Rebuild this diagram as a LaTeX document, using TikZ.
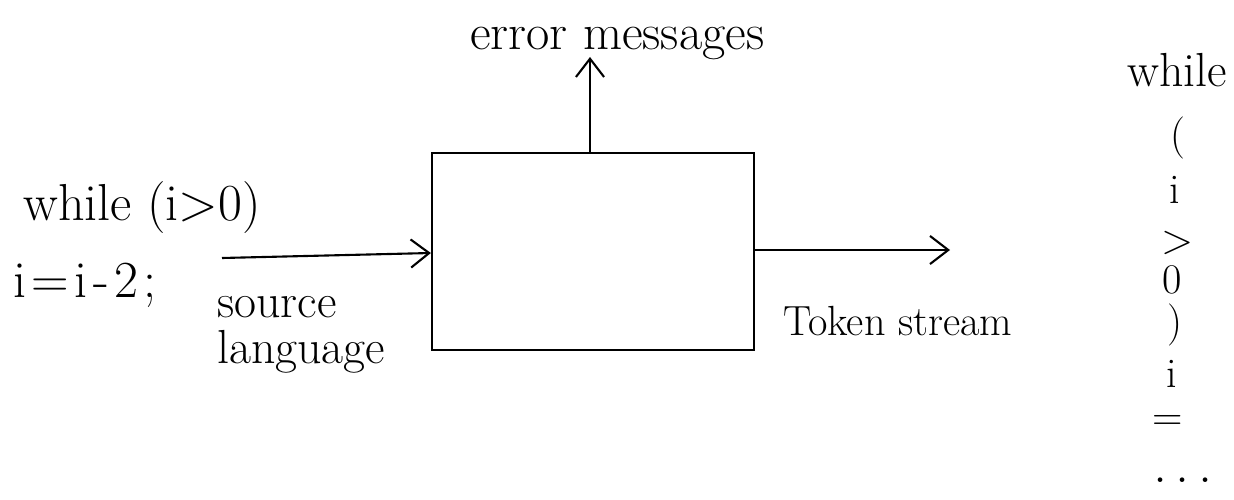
\documentclass[tikz,border=0pt]{standalone}
\usetikzlibrary{arrows.meta}
\begin{document}
\begin{tikzpicture}[x=0.025cm,y=-0.025cm,
  conn/.style={line width=1.5pt,-{Straight Barb[length=13pt,width=20pt,line width=1.5pt]}},
  lbl/.style={inner sep=0pt,anchor=base west},
  tok/.style={inner sep=0pt,anchor=base,font=\fontsize{30}{32}\selectfont}]
\useasboundingbox (0,0) rectangle (1234,499);
\node[draw,line width=1.6pt,minimum width=322*0.025cm,minimum height=197*0.025cm,inner sep=0pt] (box) at (593,251.5) {};
\node[lbl,font=\fontsize{36}{38}\selectfont] (err) at (470,50) {error messages};
\coordinate (errtop) at (590,57);
\draw[conn] (box.north -| errtop) -- (errtop);
\node[lbl,font=\fontsize{37}{39}\selectfont] (w1) at (23,220) {while (i>0)};
\node[lbl,font=\fontsize{37}{39}\selectfont] (w2) at (13,297) {i\kern4pt=\kern4pt i\kern4pt-\kern4pt 2\kern3pt;};
\coordinate (inL) at (222,258);
\draw[conn] (inL) -- (box.west |- 0,253);
\node[lbl,font=\fontsize{34}{36}\selectfont] (src) at (217,317) {source};
\node[lbl,font=\fontsize{34}{36}\selectfont] (lang) at (217,363) {language};
\coordinate (outR) at (950,250);
\draw[conn] (box.east |- outR) -- (outR);
\node[lbl,font=\fontsize{30}{32}\selectfont] (ts) at (783,335) {Token stream};
\node[tok,font=\fontsize{34}{36}\selectfont] (t1) at (1177,86) {while};
\node[tok] (t2) at (1178,148) {(};
\node[tok] (t3) at (1175,203) {i};
\node[tok] (t4) at (1178,253) {>};
\node[tok] (t5) at (1172,293) {0};
\node[tok] (t6) at (1175,335) {)};
\node[tok] (t7) at (1172,387) {i};
\node[tok] (t8) at (1168,430) {=};
\node[tok,font=\fontsize{40}{40}\selectfont] (t9) at (1183,482) {.\hspace{6pt}.\hspace{6pt}.};
\end{tikzpicture}
\end{document}
